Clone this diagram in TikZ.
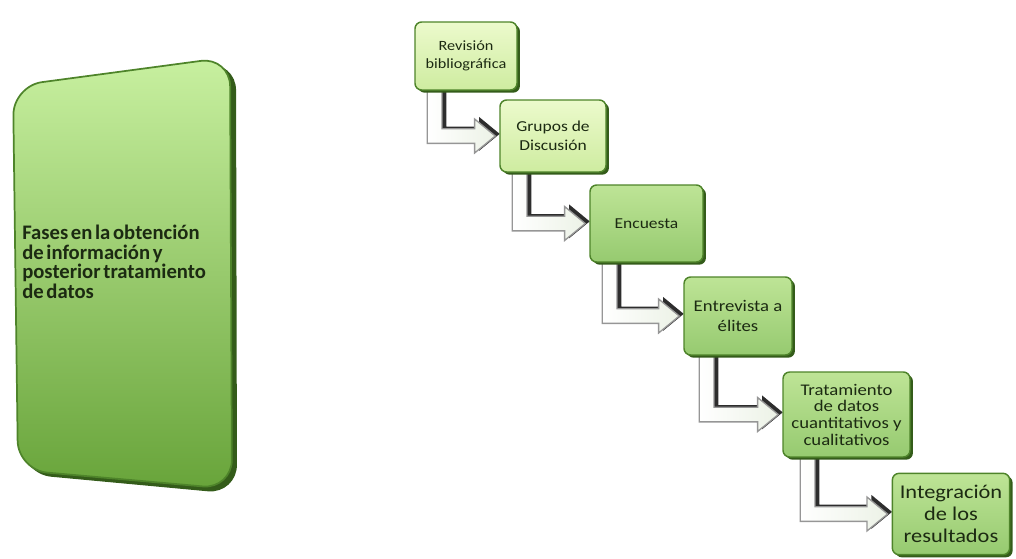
\documentclass[tikz,border=0pt]{standalone}
\usepackage{fontspec}
\setmainfont{Carlito}
\newfontfamily\stepfont[FakeStretch=1.15]{Carlito}
\usetikzlibrary{calc,backgrounds,shadows}

\definecolor{boxedge}{RGB}{78,132,42}
\definecolor{boxshade}{RGB}{52,92,26}
\definecolor{inktext}{RGB}{28,42,18}
\definecolor{arrowedge}{RGB}{150,150,150}
\definecolor{arrowdark}{RGB}{45,45,45}

\newcommand\narrowspaces{\spaceskip=0.13em plus 0.05em\relax}

\tikzset{
  stepbox/.style={rectangle, rounded corners=5pt, draw=boxedge, line width=1.1pt,
    align=center, inner sep=2pt, text=inktext,
    drop shadow={shadow xshift=2.2pt, shadow yshift=-2pt, fill=boxshade, opacity=1}},
  palebox/.style={stepbox, top color={rgb,255:red,236;green,250;blue,204}, bottom color={rgb,255:red,206;green,236;blue,160}},
  midbox/.style={stepbox, top color={rgb,255:red,190;green,228;blue,150}, bottom color={rgb,255:red,150;green,202;blue,112}},
}

% L-shaped block arrow leaving the bottom of #1 and pointing at the left side of #2
\newcommand\bentarrow[3]{%
  \path let \p1=(#1.south west), \p2=(#2.west),
    \n1={\x1+#3}, \n2={\x2-3pt}, \n3={\n2-15.5pt} in
    [fill=arrowdark, shift={(3.3pt,1.6pt)}]
      (\n1,\y1) -- (\n1,\y2-5.5pt) -- (\n3,\y2-5.5pt) -- (\n3,\y2-12.75pt)
      -- (\n2,\y2) -- (\n3,\y2+12.75pt) -- (\n3,\y2+5.5pt) -- (\n1+11pt,\y2+5.5pt)
      -- (\n1+11pt,\y1) -- cycle;
  \path let \p1=(#1.south west), \p2=(#2.west),
    \n1={\x1+#3}, \n2={\x2-3pt}, \n3={\n2-15.5pt} in
    [draw=arrowedge, line width=1pt, left color=white, right color={rgb,255:red,236;green,242;blue,230}]
      (\n1,\y1) -- (\n1,\y2-5.5pt) -- (\n3,\y2-5.5pt) -- (\n3,\y2-12.75pt)
      -- (\n2,\y2) -- (\n3,\y2+12.75pt) -- (\n3,\y2+5.5pt) -- (\n1+11pt,\y2+5.5pt)
      -- (\n1+11pt,\y1) -- cycle;
}

\begin{document}
\begin{tikzpicture}[x=0.75pt,y=-0.75pt]
\useasboundingbox (0,0) rectangle (1016,558);

% large title panel, seen in slight perspective
\fill[boxshade, rounded corners=22pt]
  (17,90) -- (236,61) -- (237,494) -- (22,474) -- cycle;
\shade[top color={rgb,255:red,200;green,240;blue,160}, bottom color={rgb,255:red,104;green,164;blue,58},
       draw=boxedge, line width=1.3pt, rounded corners=22pt]
  (13,86) -- (230,57) -- (232,489) -- (18,470) -- cycle;
\node[anchor=west, align=left, text=inktext, inner sep=0pt,
      font=\bfseries\fontsize{15.5}{14.6}\selectfont\narrowspaces]
  (title) at (22,262) {Fases en la obtención\\de información y\\posterior tratamiento\\de datos};

% the six steps
\node[palebox, minimum width=76.5pt, minimum height=51pt, font=\stepfont\fontsize{10.6}{13.3}\selectfont]
  (s1) at (466,56) {Revisión\\bibliográfica};
\node[palebox, minimum width=79.5pt, minimum height=54pt, font=\stepfont\fontsize{11.4}{14}\selectfont]
  (s2) at (553,136) {Grupos de\\Discusión};
\node[midbox, minimum width=84.75pt, minimum height=57.75pt, font=\stepfont\fontsize{11.4}{14}\selectfont]
  (s3) at (646.5,223.5) {Encuesta};
\node[midbox, minimum width=81pt, minimum height=58.5pt, font=\stepfont\fontsize{12.2}{15.5}\selectfont]
  (s4) at (738,316) {Entrevista a\\élites};
\node[midbox, minimum width=95.25pt, minimum height=63.75pt, font=\stepfont\fontsize{12.2}{12.5}\selectfont]
  (s5) at (846.5,414.5) {Tratamiento\\de datos\\cuantitativos y\\cualitativos};
\node[midbox, minimum width=88pt, minimum height=61pt, font=\stepfont\fontsize{14.6}{16.3}\selectfont]
  (s6) at (951,514) {Integración\\de los\\resultados};

% connectors between consecutive steps
\begin{scope}[on background layer]
  \bentarrow{s1}{s2}{9.75pt}
  \bentarrow{s2}{s3}{9.75pt}
  \bentarrow{s3}{s4}{9.75pt}
  \bentarrow{s4}{s5}{12pt}
  \bentarrow{s5}{s6}{13.5pt}
\end{scope}
\end{tikzpicture}
\end{document}
